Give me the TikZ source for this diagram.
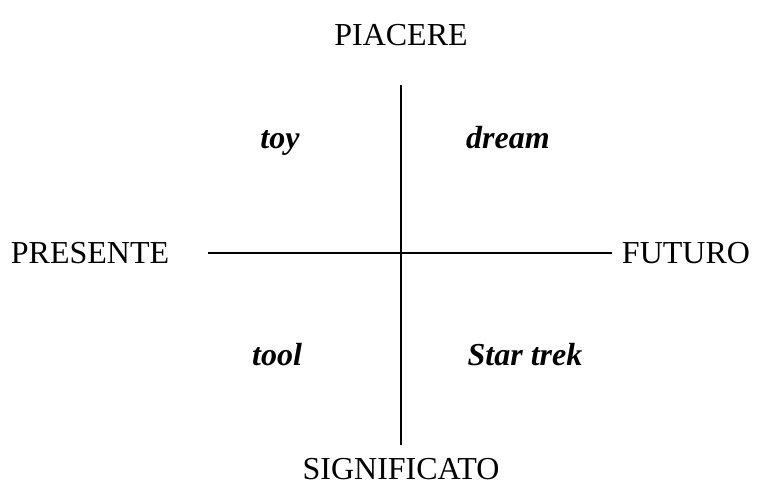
\documentclass[tikz,border=0pt]{standalone}
\usepackage{fontspec}
\setmainfont{Liberation Serif}
\begin{document}
\begin{tikzpicture}[x=0.5pt,y=-0.5pt,
  lbl/.style={font=\fontsize{16}{18}\selectfont, inner sep=0pt},
  qlbl/.style={font=\fontsize{16}{18}\selectfont\bfseries\itshape, inner sep=0pt, anchor=base},
  axis/.style={line width=0.7pt}]
\useasboundingbox (0,0) rectangle (761,484);
\node[lbl] (piacere) at (401,35) {PIACERE};
\node[lbl] (signif) at (401,469) {SIGNIFICATO};
\node[lbl] (presente) at (90,253) {PRESENTE};
\node[lbl] (futuro) at (686,253) {FUTURO};
\coordinate (top) at (401,85);
\coordinate (bot) at (401,445);
\coordinate (left) at (208,253);
\coordinate (right) at (612,253);
\draw[axis] (top) -- (bot);
\draw[axis] (left) -- (right);
\node[qlbl] (toy) at (280,148) {toy};
\node[qlbl] (dream) at (508,148) {dream};
\node[qlbl] (tool) at (277,365) {tool};
\node[qlbl] (star) at (525,365) {Star trek};
\end{tikzpicture}
\end{document}
